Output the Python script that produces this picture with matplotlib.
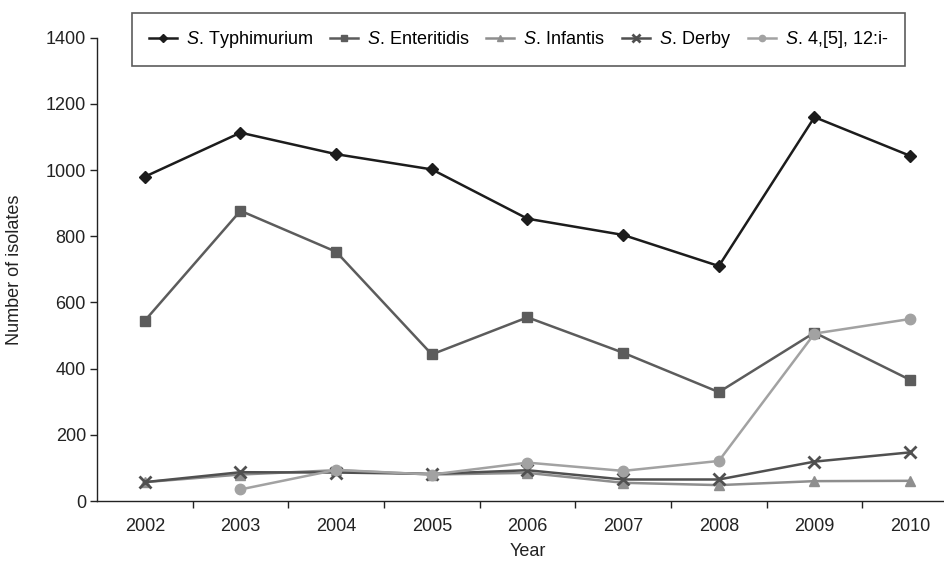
import numpy as np
import matplotlib
matplotlib.use('Agg')
import matplotlib.pyplot as plt

plt.rcParams['font.family'] = ['Liberation Sans', 'DejaVu Sans']
plt.rcParams['mathtext.fontset'] = 'custom'
plt.rcParams['mathtext.it'] = 'Liberation Sans:italic'
plt.rcParams['mathtext.rm'] = 'Liberation Sans'

years = ['2002', '2003', '2004', '2005', '2006', '2007', '2008', '2009', '2010']
typhimurium = [980, 1113, 1048, 1002, 853, 804, 710, 1160, 1043]
enteritidis = [545, 877, 753, 443, 555, 448, 329, 509, 366]
infantis = [57, 80, 93, 80, 85, 55, 48, 60, 61]
derby = [57, 87, 86, 82, 93, 65, 65, 119, 147]
mono = [np.nan, 35, 94, 80, 116, 91, 121, 506, 550]

fig = plt.figure(figsize=(9.44, 5.62), dpi=100)
ax = fig.add_axes([97/944, 61/562, 861/944, 463.3/562])

x = np.arange(len(years))
series = [
    (typhimurium, '#1c1c1c', 'D', 6.5, r'$\mathit{S}$. Typhimurium'),
    (enteritidis, '#5c5c5c', 's', 6.5, r'$\mathit{S}$. Enteritidis'),
    (infantis, '#8e8e8e', '^', 7.5, r'$\mathit{S}$. Infantis'),
    (derby, '#505050', 'x', 8.5, r'$\mathit{S}$. Derby'),
    (mono, '#a2a2a2', 'o', 7.5, r'$\mathit{S}$. 4,[5], 12:i-'),
]
for vals, col, mk, ms, lab in series:
    ax.plot(x, vals, color=col, marker=mk, markersize=ms, lw=1.8,
            markeredgewidth=2 if mk == 'x' else 1, label=lab)

ax.set_xlim(-0.5, 8.5)
ax.set_ylim(0, 1400)
ax.set_yticks(range(0, 1401, 200))
ax.set_xticks(x)
ax.set_xticklabels(years)
ax.set_xticks(np.arange(0.5, 8.6, 1), minor=True)
ax.tick_params(axis='x', which='major', length=0, pad=12, labelsize=13, colors='#222222')
ax.tick_params(axis='x', which='minor', length=5, width=1, color='#222222')
ax.tick_params(axis='y', length=5, width=1, pad=3, labelsize=13, colors='#222222')
for s in ['top', 'right']:
    ax.spines[s].set_visible(False)
for s in ['left', 'bottom']:
    ax.spines[s].set_color('#222222')
    ax.spines[s].set_linewidth(1)

ax.set_xlabel('Year', fontsize=13, color='#222222', labelpad=6)
fig.text(15/944, 0.52, 'Number of isolates', rotation=90, fontsize=13,
         color='#222222', ha='center', va='center')

leg = fig.legend(loc='center', bbox_to_anchor=(518.5/944, 1 - 39.5/562), ncol=5,
                 fontsize=13, frameon=True, fancybox=False, edgecolor='#333333',
                 handlelength=1.55, handletextpad=0.5, columnspacing=0.95,
                 markerscale=0.6, borderpad=0.9, borderaxespad=0)
leg.get_frame().set_linewidth(1.2)

fig.savefig('out.png', dpi=100)
